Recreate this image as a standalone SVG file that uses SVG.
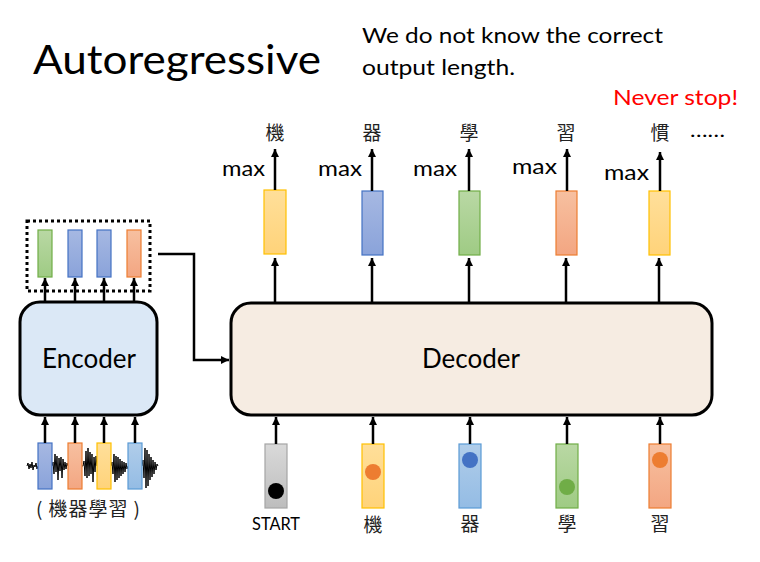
<svg xmlns="http://www.w3.org/2000/svg" width="760" height="562" viewBox="0 0 760 562">
<style>
.t{font-family:Lato,"Open Sans","Liberation Sans",sans-serif;fill:#000}
.cjk{font-family:"Noto Sans CJK TC","Noto Sans CJK SC",sans-serif;fill:#222}
.ln{stroke:#000;stroke-width:2.5;fill:none}
.ar{stroke:#000;stroke-width:2.5;fill:none;marker-end:url(#ah)}
.y{fill:url(#gy);stroke:#ffc000;stroke-width:1.2}
.b{fill:url(#gb);stroke:#4472c4;stroke-width:1.2}
.g{fill:url(#gg);stroke:#70ad47;stroke-width:1.2}
.o{fill:url(#go);stroke:#ed7d31;stroke-width:1.2}
.lb{fill:url(#glb);stroke:#5b9bd5;stroke-width:1.2}
.gr{fill:url(#ggr);stroke:#a5a5a5;stroke-width:1.2}
</style>
<defs>
<marker id="ah" markerUnits="userSpaceOnUse" markerWidth="9" markerHeight="9" refX="8" refY="4.5" orient="auto"><path d="M0,0.5 L8,4.5 L0,8.5 z" fill="#000"/></marker>
<linearGradient id="gy" x1="0" y1="0" x2="0" y2="1"><stop offset="0" stop-color="#ffdf9a"/><stop offset="1" stop-color="#ffd37a"/></linearGradient>
<linearGradient id="gb" x1="0" y1="0" x2="0" y2="1"><stop offset="0" stop-color="#a6b8e2"/><stop offset="1" stop-color="#8aa3da"/></linearGradient>
<linearGradient id="gg" x1="0" y1="0" x2="0" y2="1"><stop offset="0" stop-color="#b9d8a4"/><stop offset="1" stop-color="#9fcb84"/></linearGradient>
<linearGradient id="go" x1="0" y1="0" x2="0" y2="1"><stop offset="0" stop-color="#f7c0a0"/><stop offset="1" stop-color="#f3a682"/></linearGradient>
<linearGradient id="glb" x1="0" y1="0" x2="0" y2="1"><stop offset="0" stop-color="#b0cdea"/><stop offset="1" stop-color="#94bce4"/></linearGradient>
<linearGradient id="ggr" x1="0" y1="0" x2="0" y2="1"><stop offset="0" stop-color="#d9d9d9"/><stop offset="1" stop-color="#bdbdbd"/></linearGradient>
</defs>
<rect width="760" height="562" fill="#fff"/>

<g id="title">
<text class="t" x="33" y="74" font-size="40" textLength="288" lengthAdjust="spacingAndGlyphs">Autoregressive</text>
<text class="t" x="362" y="43" font-size="22" textLength="301" lengthAdjust="spacingAndGlyphs">We do not know the correct</text>
<text class="t" x="362" y="75" font-size="22" textLength="153" lengthAdjust="spacingAndGlyphs">output length.</text>
<text x="613" y="105" font-size="21" fill="#ff0000" font-family="Lato,'Open Sans','Liberation Sans',sans-serif" textLength="125" lengthAdjust="spacingAndGlyphs">Never stop!</text>
</g>

<g id="waveform">
<polyline fill="none" stroke="#000" stroke-width="1" points="27,466 28,463 29,469 30,464 31,468 32,462 33,470 34,465 35,467 36,463 37,469 38,466 52,466 53,462 54,474 55,454 56,472 57,456 58,480 59,458 60,471 61,457 62,478 63,459 64,470 65,462 66,469 67,463 68,466 83,466 84,461 85,476 86,451 87,478 88,448 89,476 90,452 91,474 92,454 93,482 94,457 95,472 96,456 97,466 111,466 112,462 113,474 114,454 115,482 116,456 117,480 118,457 119,478 120,459 121,476 122,461 123,474 124,462 125,472 126,463 127,469 128,466 142,466 143,460 144,478 145,448 146,488 147,450 148,486 149,454 150,480 151,457 152,477 153,460 154,474 155,462 156,470 157,464 158,466"/>
</g>

<g id="encoder-inputs">
<rect class="b" x="38" y="443" width="14" height="46"/>
<rect class="o" x="68" y="443" width="14" height="46"/>
<rect class="y" x="97" y="443" width="14" height="46"/>
<rect class="lb" x="128" y="443" width="14" height="46"/>
<text class="cjk" x="88" y="516" font-size="19" text-anchor="middle" fill="#333" textLength="104" lengthAdjust="spacing">( 機器學習 )</text>
</g>

<g id="encoder">
<rect x="20" y="302" width="137" height="113" rx="20" fill="#dbe8f6" stroke="#000" stroke-width="3"/>
<text class="t" x="89" y="368" font-size="26" text-anchor="middle">Encoder</text>
</g>

<g id="encoder-outputs">
<rect x="27" y="221" width="123" height="70" fill="none" stroke="#000" stroke-width="3" stroke-dasharray="3,3"/>
<rect class="g" x="38" y="230" width="14" height="47"/>
<rect class="b" x="68" y="230" width="14" height="47"/>
<rect class="b" x="97" y="230" width="14" height="47"/>
<rect class="o" x="127" y="230" width="14" height="47"/>
</g>

<g id="decoder">
<rect x="231" y="303" width="481" height="112" rx="20" fill="#f6ece2" stroke="#000" stroke-width="3"/>
<text class="t" x="471" y="368" font-size="26" text-anchor="middle">Decoder</text>
</g>

<g id="decoder-outputs">
<rect class="y" x="264" y="190" width="22" height="64"/>
<rect class="b" x="362" y="191" width="21" height="64"/>
<rect class="g" x="459" y="191" width="21" height="64"/>
<rect class="o" x="556" y="191" width="21" height="64"/>
<rect class="y" x="649" y="191" width="21" height="64"/>
<text class="t" x="222" y="176" font-size="22" textLength="43" lengthAdjust="spacingAndGlyphs">max</text>
<text class="t" x="318" y="176" font-size="22" textLength="44" lengthAdjust="spacingAndGlyphs">max</text>
<text class="t" x="413" y="176" font-size="22" textLength="44" lengthAdjust="spacingAndGlyphs">max</text>
<text class="t" x="512" y="174" font-size="22" textLength="45" lengthAdjust="spacingAndGlyphs">max</text>
<text class="t" x="604" y="180" font-size="22" textLength="45" lengthAdjust="spacingAndGlyphs">max</text>
<text class="cjk" x="275" y="140" font-size="19" text-anchor="middle">機</text>
<text class="cjk" x="372" y="140" font-size="19" text-anchor="middle">器</text>
<text class="cjk" x="469" y="140" font-size="19" text-anchor="middle">學</text>
<text class="cjk" x="566" y="140" font-size="19" text-anchor="middle">習</text>
<text class="cjk" x="660" y="140" font-size="19" text-anchor="middle">慣</text>
<text class="t" x="690" y="137" font-size="20" textLength="35" lengthAdjust="spacingAndGlyphs">……</text>
</g>

<g id="decoder-inputs">
<rect class="gr" x="265" y="444" width="22" height="64"/>
<circle cx="276" cy="491" r="8" fill="#000"/>
<rect class="y" x="362" y="444" width="22" height="64"/>
<circle cx="373" cy="472" r="8" fill="#ed7d31"/>
<rect class="lb" x="459" y="444" width="22" height="64"/>
<circle cx="470" cy="460" r="8" fill="#4472c4"/>
<rect class="g" x="556" y="444" width="22" height="64"/>
<circle cx="567" cy="487" r="8" fill="#70ad47"/>
<rect class="o" x="649" y="444" width="22" height="64"/>
<circle cx="660" cy="460" r="8" fill="#ed7d31"/>
<text class="t" x="276" y="530" font-size="17" text-anchor="middle" textLength="48" lengthAdjust="spacingAndGlyphs">START</text>
<text class="cjk" x="373" y="532" font-size="19" text-anchor="middle">機</text>
<text class="cjk" x="470" y="531" font-size="19" text-anchor="middle">器</text>
<text class="cjk" x="567" y="531" font-size="19" text-anchor="middle">學</text>
<text class="cjk" x="660" y="531" font-size="19" text-anchor="middle">習</text>
</g>

<g id="connectors">
<line class="ar" x1="45" y1="443" x2="45" y2="417"/>
<line class="ar" x1="75" y1="443" x2="75" y2="417"/>
<line class="ar" x1="104" y1="443" x2="104" y2="417"/>
<line class="ar" x1="135" y1="443" x2="135" y2="417"/>
<line class="ar" x1="45" y1="301" x2="45" y2="278"/>
<line class="ar" x1="75" y1="301" x2="75" y2="278"/>
<line class="ar" x1="104" y1="301" x2="104" y2="278"/>
<line class="ar" x1="134" y1="301" x2="134" y2="278"/>
<polyline class="ar" points="158,254 194,254 194,360 229,360"/>
<line class="ar" x1="275" y1="302" x2="275" y2="258"/>
<line class="ar" x1="372" y1="302" x2="372" y2="258"/>
<line class="ar" x1="469" y1="302" x2="469" y2="258"/>
<line class="ar" x1="566" y1="302" x2="566" y2="258"/>
<line class="ar" x1="659" y1="302" x2="659" y2="258"/>
<line class="ar" x1="275" y1="190" x2="275" y2="149"/>
<line class="ar" x1="372" y1="191" x2="372" y2="149"/>
<line class="ar" x1="469" y1="191" x2="469" y2="149"/>
<line class="ar" x1="567" y1="191" x2="567" y2="149"/>
<line class="ar" x1="660" y1="191" x2="660" y2="152"/>
<line class="ar" x1="276" y1="444" x2="276" y2="417"/>
<line class="ar" x1="373" y1="444" x2="373" y2="417"/>
<line class="ar" x1="470" y1="444" x2="470" y2="417"/>
<line class="ar" x1="567" y1="444" x2="567" y2="417"/>
<line class="ar" x1="660" y1="444" x2="660" y2="417"/>
</g>
</svg>
